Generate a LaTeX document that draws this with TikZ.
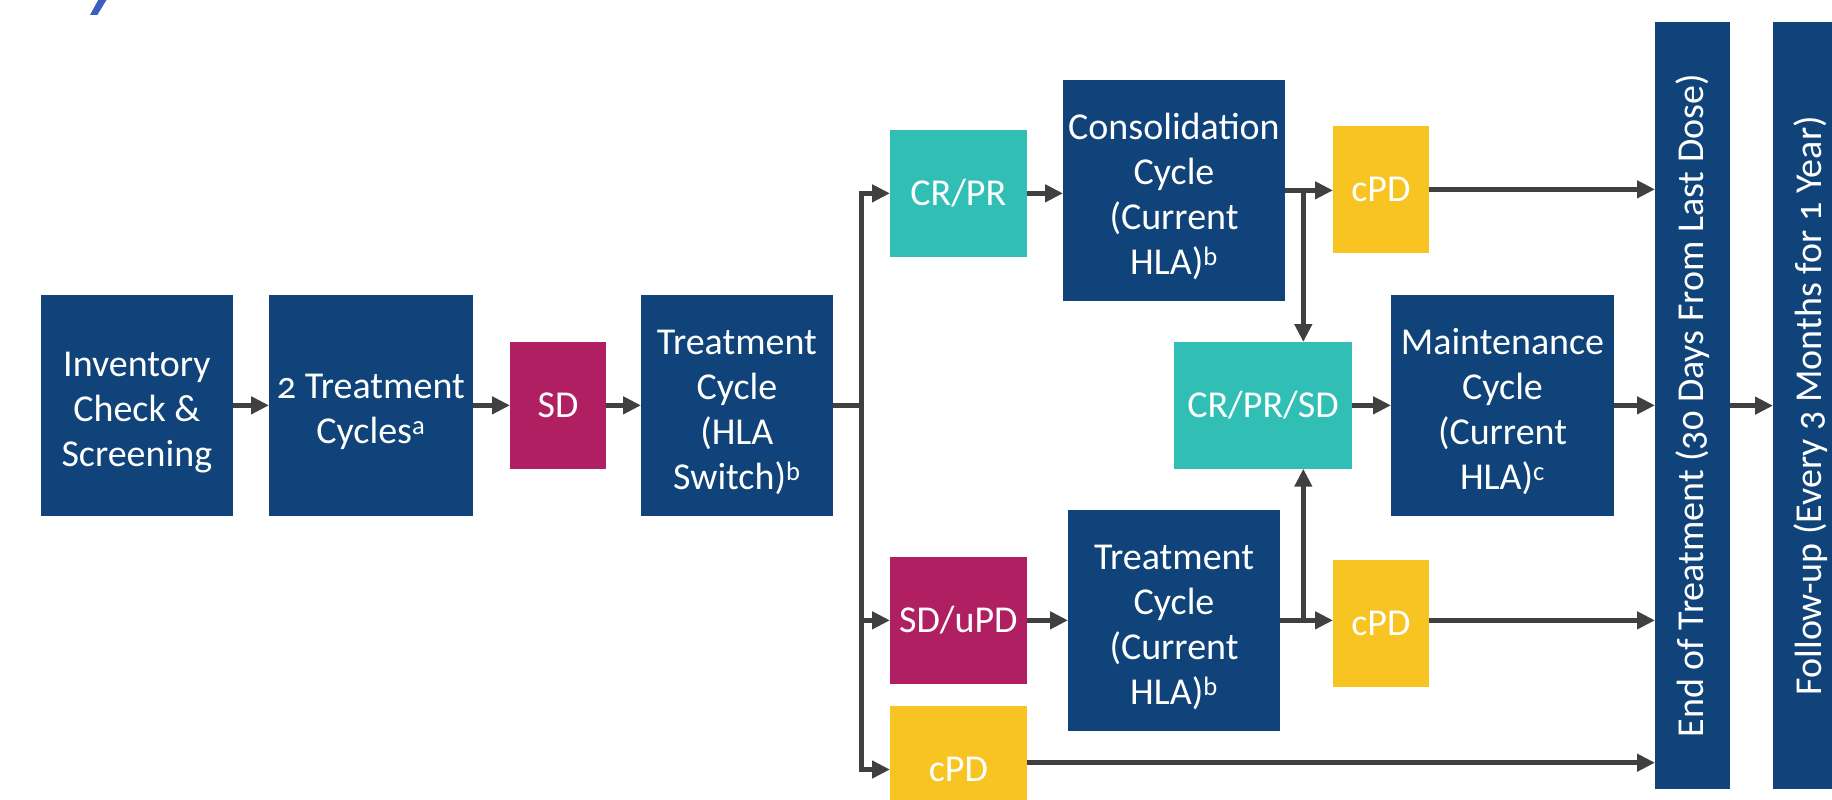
\documentclass[tikz,border=0pt]{standalone}
\usepackage{fontspec}
\setmainfont{Carlito}[Numbers=OldStyle]
\usetikzlibrary{arrows.meta}
\definecolor{navy}{RGB}{16,67,121}
\definecolor{berry}{RGB}{176,31,98}
\definecolor{aqua}{RGB}{49,191,181}
\definecolor{amber}{RGB}{247,196,34}
\definecolor{wire}{RGB}{64,64,64}
\definecolor{titleblue}{RGB}{58,95,191}
% extra leading above the first line of a multi-line label
\newcommand\leadstrut{\rule{0pt}{38pt}}
\begin{document}
\begin{tikzpicture}[x=1pt,y=-1pt,
  box/.style={anchor=north west, inner sep=0pt, outer sep=0pt, align=center,
              text=white, font=\fontsize{38}{45}\selectfont},
  navybox/.style={box, fill=navy},
  berrybox/.style={box, fill=berry},
  aquabox/.style={box, fill=aqua},
  amberbox/.style={box, fill=amber},
  rottext/.style={rotate=90, inner sep=0pt, text=white, font=\fontsize{38}{45}\selectfont},
  ln/.style={draw=wire, line width=5pt},
  arr/.style={ln, -{Triangle[length=18pt,width=17pt]}},
]
\useasboundingbox (0,0) rectangle (1832,800);
\clip (0,0) rectangle (1832,800);

% fragment of the heading above the chart
\fill[titleblue] (99.3,-2) -- (107.7,-2) -- (97.3,15) -- (90,15) -- cycle;

% first row
\node[navybox, minimum width=191.7pt, minimum height=220.7pt] (inv) at (41,295) {\leadstrut Inventory\\Check \&\\Screening};
\node[navybox, minimum width=203.7pt, minimum height=220.7pt] (trt2) at (269,295) {\leadstrut 2 Treatment\\Cycles\textsuperscript{a}};
\node[berrybox, minimum width=96pt, minimum height=126.7pt] (sd) at (510,342) {SD};
\node[navybox, minimum width=191.7pt, minimum height=220.7pt] (trthla) at (641,295) {\leadstrut Treatment\\Cycle\\(HLA\\Switch)\textsuperscript{b}};

% responses and follow-on cycles
\node[aquabox, minimum width=136.7pt, minimum height=126.7pt] (crpr) at (890,130) {CR/PR};
\node[navybox, minimum width=222pt, minimum height=220.7pt] (cons) at (1063,80) {\leadstrut Consolidation\\Cycle\\(Current\\HLA)\textsuperscript{b}};
\node[amberbox, minimum width=95.7pt, minimum height=126.7pt] (cpdA) at (1333,126) {cPD};
\node[aquabox, minimum width=178pt, minimum height=126.7pt] (crprsd) at (1174,342) {CR/PR/SD};
\node[navybox, minimum width=223pt, minimum height=220.7pt] (maint) at (1391,295) {\leadstrut Maintenance\\Cycle\\(Current\\HLA)\textsuperscript{c}};
\node[berrybox, minimum width=136.7pt, minimum height=126.7pt] (sdupd) at (890,557) {SD/uPD};
\node[navybox, minimum width=212pt, minimum height=220.7pt] (trtcur) at (1068,510) {\leadstrut Treatment\\Cycle\\(Current\\HLA)\textsuperscript{b}};
\node[amberbox, minimum width=95.7pt, minimum height=126.7pt] (cpdB) at (1333,560) {cPD};
\node[amberbox, minimum width=136.7pt, minimum height=127pt] (cpdC) at (890,706) {cPD};

% end-of-study columns
\node[navybox, minimum width=75pt, minimum height=767.3pt] (eot) at (1655,22) {};
\node[navybox, minimum width=75pt, minimum height=767.3pt] (fu) at (1773,22) {};
\node[rottext] (eottxt) at (eot.center) {End of Treatment (30 Days From Last Dose)};
\node[rottext] (futxt) at (fu.center) {Follow-up (Every 3 Months for 1 Year)};

% branch points
\coordinate (j) at (861.7,405);
\coordinate (bx) at (1303.3,0);

% connectors
\draw[arr] (inv.east) -- (trt2.west);
\draw[arr] (trt2.east) -- (sd.west);
\draw[arr] (sd.east) -- (trthla.west);
\draw[arr] (trthla.east) -- (trthla.east -| j) |- (crpr.west);
\draw[arr] (trthla.east -| j) |- (sdupd.west);
\draw[arr] (trthla.east -| j) |- (cpdC.west);

\draw[arr] (crpr.east) -- (crpr.east -| cons.west);
\draw[arr] (cons.east) -- (cons.east -| cpdA.west);
\draw[arr] (cons.east -| bx) -- (bx |- crprsd.north);
\draw[arr] (sdupd.east) -- (sdupd.east -| trtcur.west);
\draw[arr] (trtcur.east) -- (trtcur.east -| cpdB.west);
\draw[arr] (trtcur.east -| bx) -- (bx |- crprsd.south);
\draw[arr] (crprsd.east) -- (crprsd.east -| maint.west);

\draw[arr] (cpdA.east) -- (cpdA.east -| eot.west);
\draw[arr] (maint.east) -- (maint.east -| eot.west);
\draw[arr] (trtcur.east -| cpdB.east) -- (trtcur.east -| eot.west);
\draw[arr] ([yshift=6.8pt]cpdC.east) -- ([yshift=6.8pt]cpdC.east -| eot.west);
\draw[arr] (eot.east) -- (eot.east -| fu.west);
\end{tikzpicture}
\end{document}
